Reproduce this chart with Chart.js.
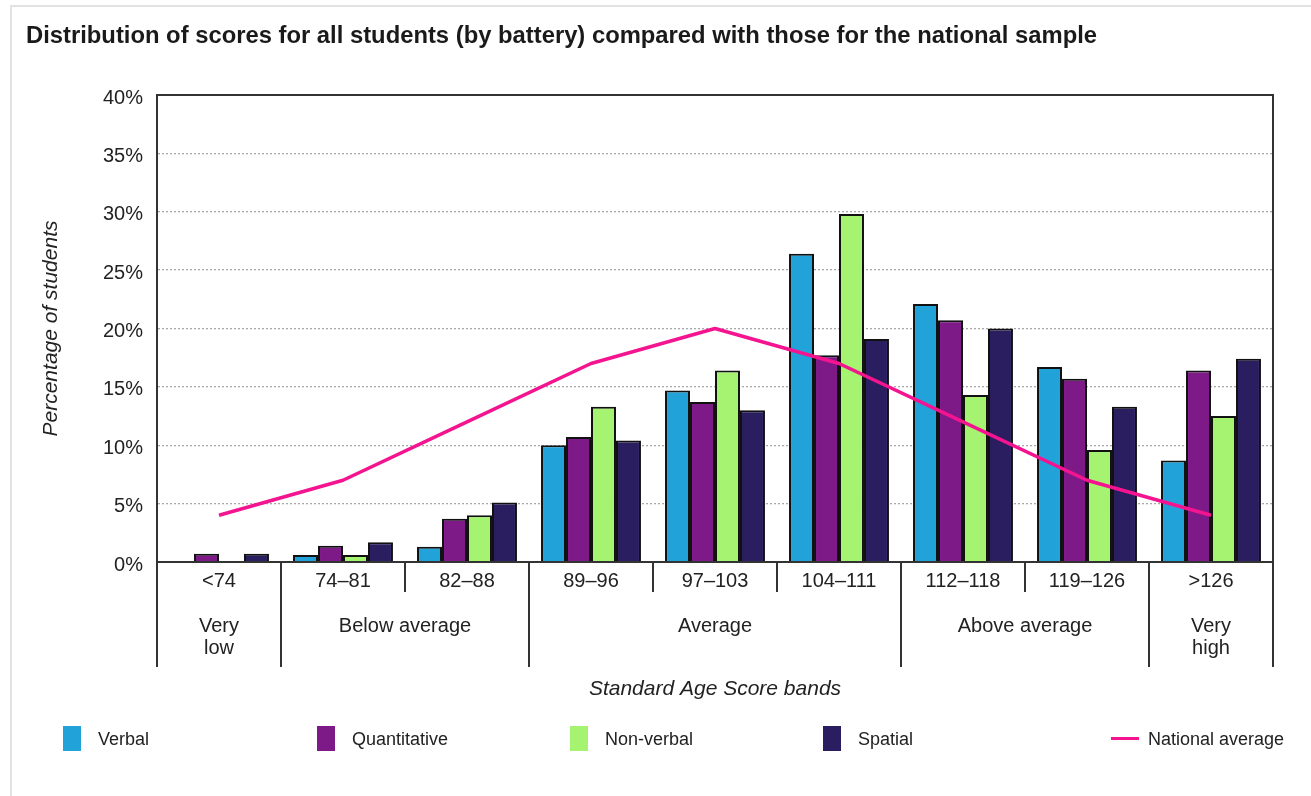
<!DOCTYPE html>
<html>
<head>
<meta charset="utf-8">
<script src="https://cdn.jsdelivr.net/npm/chart.js@4.4.1/dist/chart.umd.min.js"></script>
<style>
  html, body { margin: 0; padding: 0; background: #fff; }
  body { width: 1311px; height: 796px; position: relative; overflow: hidden; font-family: "Liberation Sans", Arial, sans-serif; color: #222; }
  #frame { position: absolute; left: 10px; top: 5px; width: 1400px; height: 900px; border-left: 2px solid #e2e2e2; border-top: 2px solid #e2e2e2; }
  #title { position: absolute; left: 26px; top: 21px; font-size: 23.8px; line-height: 28px; font-weight: bold; color: #1a1a1a; white-space: nowrap; }
  #chart { position: absolute; left: 0; top: 0; }
  .leg { position: absolute; top: 726px; height: 26px; font-size: 18px; line-height: 26px; color: #222; white-space: nowrap; }
  .sw { position: absolute; left: 0; top: 0; width: 18px; height: 25px; }
  .ln { position: absolute; left: 0; top: 11px; width: 28px; height: 3px; }
  .lt { position: absolute; top: 0; }
</style>
</head>
<body>
<div id="frame"></div>
<canvas id="chart" width="1311" height="796"></canvas>
<div id="title">Distribution of scores for all students (by battery) compared with those for the national sample</div>
<div id="legend"></div>
<script>
const categories = ['<74', '74–81', '82–88', '89–96', '97–103', '104–111', '112–118', '119–126', '>126'];
const groupLabels = [['Very', 'low'], ['Below average'], ['Average'], ['Above average'], ['Very', 'high']];
const groupSpans = [1, 2, 3, 2, 1];
const verbal       = [0,   0.6, 1.3, 10.0, 14.7, 26.4, 22.1, 16.7, 8.7];
const quantitative = [0.7, 1.4, 3.7, 10.7, 13.7, 17.7, 20.7, 15.7, 16.4];
const nonVerbal    = [0,   0.6, 4.0, 13.3, 16.4, 29.8, 14.3, 9.6, 12.5];
const spatial      = [0.7, 1.7, 5.1, 10.4, 13.0, 19.1, 20.0, 13.3, 17.4];
const nationalAvg  = [4, 7, 12, 17, 20, 17, 12, 7, 4];
const yTicks = [0, 5, 10, 15, 20, 25, 30, 35, 40];

const FONT = '"Liberation Sans", Arial, sans-serif';
const colors = { verbal: '#21A3D9', quant: '#7E1A88', nonverbal: '#A6F271', spatial: '#2A1E61', national: '#F5148F' };

const legendItems = [
  { label: 'Verbal', color: colors.verbal, type: 'box', left: 63 },
  { label: 'Quantitative', color: colors.quant, type: 'box', left: 317 },
  { label: 'Non-verbal', color: colors.nonverbal, type: 'box', left: 570 },
  { label: 'Spatial', color: colors.spatial, type: 'box', left: 823 },
  { label: 'National average', color: colors.national, type: 'line', left: 1111 }
];
const legendEl = document.getElementById('legend');
legendItems.forEach(it => {
  const d = document.createElement('div');
  d.className = 'leg';
  d.style.left = it.left + 'px';
  const s = document.createElement('div');
  s.className = it.type === 'box' ? 'sw' : 'ln';
  s.style.background = it.color;
  const t = document.createElement('span');
  t.className = 'lt';
  t.style.left = (it.type === 'box' ? 35 : 37) + 'px';
  t.textContent = it.label;
  d.appendChild(s); d.appendChild(t);
  legendEl.appendChild(d);
});

const bandPlugin = {
  id: 'bands',
  afterDraw(chart) {
    const { ctx, chartArea: a, scales: { x } } = chart;
    const n = categories.length;
    const w = x.getPixelForValue(1) - x.getPixelForValue(0);
    const edge = i => x.getPixelForValue(0) - w / 2 + i * w;
    const bounds = [0];
    groupSpans.forEach(s => bounds.push(bounds[bounds.length - 1] + s));
    ctx.save();
    ctx.setLineDash([]);
    ctx.strokeStyle = '#333';
    ctx.lineWidth = 2;
    ctx.strokeRect(a.left, a.top, a.right - a.left, a.bottom - a.top);
    for (let i = 0; i <= n; i++) {
      const long = bounds.includes(i);
      ctx.beginPath();
      ctx.moveTo(edge(i), a.bottom);
      ctx.lineTo(edge(i), a.bottom + (long ? 105 : 30));
      ctx.stroke();
    }
    ctx.fillStyle = '#222';
    ctx.font = '20px ' + FONT;
    ctx.textAlign = 'center';
    ctx.textBaseline = 'middle';
    groupLabels.forEach((lines, g) => {
      const cx = (edge(bounds[g]) + edge(bounds[g + 1])) / 2;
      lines.forEach((t, j) => ctx.fillText(t, cx, a.bottom + 64 + j * 22));
    });
    ctx.restore();
  }
};

const barCommon = { borderColor: '#111', borderWidth: 2, barPercentage: 1, categoryPercentage: 0.806, order: 1 };

new Chart(document.getElementById('chart'), {
  data: {
    labels: categories,
    datasets: [
      { type: 'line', label: 'National average', data: nationalAvg, borderColor: colors.national, borderWidth: 3.5, pointRadius: 0, tension: 0, fill: false, order: 0, borderCapStyle: 'butt', borderJoinStyle: 'round' },
      Object.assign({ type: 'bar', label: 'Verbal', data: verbal, backgroundColor: colors.verbal }, barCommon),
      Object.assign({ type: 'bar', label: 'Quantitative', data: quantitative, backgroundColor: colors.quant }, barCommon),
      Object.assign({ type: 'bar', label: 'Non-verbal', data: nonVerbal, backgroundColor: colors.nonverbal }, barCommon),
      Object.assign({ type: 'bar', label: 'Spatial', data: spatial, backgroundColor: colors.spatial }, barCommon)
    ]
  },
  options: {
    responsive: false,
    animation: false,
    devicePixelRatio: 1,
    layout: { padding: { left: 33, top: 95, right: 38, bottom: 94 } },
    plugins: { legend: { display: false }, tooltip: { enabled: false }, title: { display: false } },
    scales: {
      x: {
        grid: { display: false, drawTicks: false },
        border: { display: true, color: '#333', width: 2 },
        ticks: { color: '#222', font: { family: FONT, size: 20 }, padding: 7, maxRotation: 0, autoSkip: false },
        title: { display: true, text: 'Standard Age Score bands', color: '#222', font: { family: FONT, size: 21, style: 'italic' }, padding: { top: 0, bottom: 0 } },
        afterFit(scale) { scale.height = 140; }
      },
      y: {
        min: 0, max: 40,
        afterBuildTicks(scale) { scale.ticks = yTicks.map(v => ({ value: v })); },
        grid: {
          drawTicks: false,
          color: c => (c.tick && (c.tick.value === 0 || c.tick.value === 40)) ? 'rgba(0,0,0,0)' : '#a8a8a8',
          lineWidth: 1.3
        },
        border: { display: true, color: '#333', width: 2, dash: [2, 2] },
        ticks: { color: '#222', font: { family: FONT, size: 20 }, padding: 14, labelOffset: 3, callback: v => v + '%' },
        title: { display: true, text: 'Percentage of students', color: '#222', font: { family: FONT, size: 21, style: 'italic' }, padding: { top: 6, bottom: 0 } },
        afterFit(scale) { scale.width = 124; }
      }
    }
  },
  plugins: [bandPlugin]
});
</script>
</body>
</html>
